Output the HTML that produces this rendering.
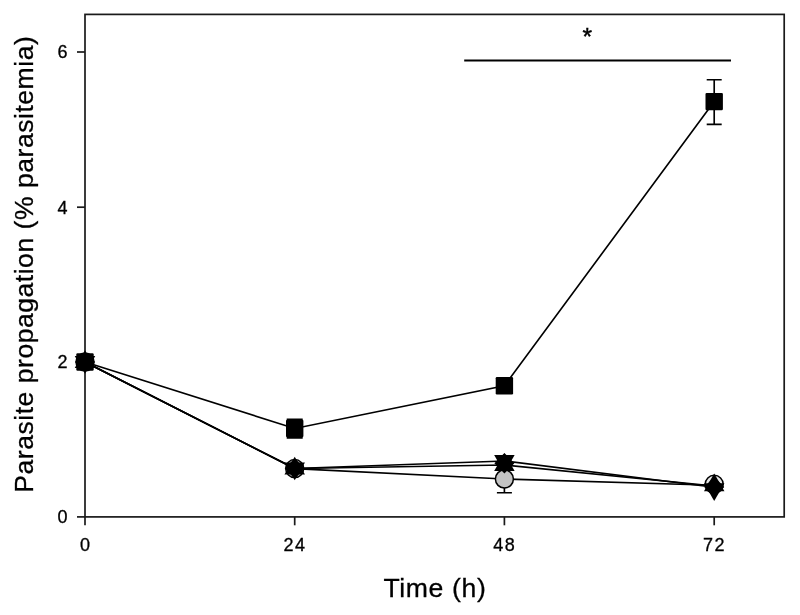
<!DOCTYPE html>
<html><head><meta charset="utf-8"><title>Parasite propagation</title>
<style>
html,body{margin:0;padding:0;background:#fff;}
body{width:800px;height:615px;overflow:hidden;}
svg{display:block;}
text{font-family:"Liberation Sans",Arial,sans-serif;fill:#000;}
.ln{fill:none;stroke:#000;stroke-width:1.65;}
.ax{fill:none;stroke:#1a1a1a;stroke-width:1.7;}
.tk{font-size:18px;letter-spacing:0.6px;stroke:#000;stroke-width:0.3px;}
.tt{font-size:26.6px;letter-spacing:0.5px;stroke:#000;stroke-width:0.3px;}
</style></head><body>
<svg width="800" height="615" viewBox="0 0 800 615">
<rect x="0" y="0" width="800" height="615" fill="#fff"/>
<rect class="ax" x="85" y="14.4" width="699.2" height="502.5"/>
<line class="ax" x1="77" y1="52" x2="85" y2="52"/>
<line class="ax" x1="77" y1="207.2" x2="85" y2="207.2"/>
<line class="ax" x1="77" y1="362" x2="85" y2="362"/>
<line class="ax" x1="77" y1="516.9" x2="85" y2="516.9"/>
<line class="ax" x1="85.0" y1="517" x2="85.0" y2="525.3"/>
<line class="ax" x1="294.7" y1="517" x2="294.7" y2="525.3"/>
<line class="ax" x1="504.4" y1="517" x2="504.4" y2="525.3"/>
<line class="ax" x1="714.2" y1="517" x2="714.2" y2="525.3"/>
<text class="tk" x="68" y="58.3" text-anchor="end">6</text>
<text class="tk" x="68" y="213.5" text-anchor="end">4</text>
<text class="tk" x="68" y="368.3" text-anchor="end">2</text>
<text class="tk" x="68" y="523.2" text-anchor="end">0</text>
<text class="tk" x="85.7" y="551.2" text-anchor="middle" style="letter-spacing:1.4px">0</text>
<text class="tk" x="295.0" y="551.2" text-anchor="middle" style="letter-spacing:1.4px">24</text>
<text class="tk" x="504.7" y="551.2" text-anchor="middle" style="letter-spacing:1.4px">48</text>
<text class="tk" x="714.5" y="551.2" text-anchor="middle" style="letter-spacing:1.4px">72</text>
<text class="tt" x="434.9" y="597.3" text-anchor="middle" style="letter-spacing:0.62px">Time (h)</text>
<text class="tt" transform="translate(33.1,264.2) rotate(-90)" text-anchor="middle">Parasite propagation (% parasitemia)</text>
<line x1="464.2" y1="60.6" x2="731" y2="60.6" stroke="#000" stroke-width="2"/>
<text x="587.2" y="45" text-anchor="middle" style="font-size:24.5px;stroke:#000;stroke-width:0.5px">*</text>
<path class="ln" d="M714.2 79.7V124.3M706.7 79.7H721.7M706.7 124.3H721.7"/>
<path class="ln" d="M504.4 465V492.7M496.9 465H511.9M496.9 492.7H511.9"/>
<path class="ln" d="M294.7 419.2V437.9M286.7 419.2H302.7M286.7 437.9H302.7"/>
<polyline class="ln" points="85.0,362.0 294.7,468.6 504.4,479.0 714.2,485.3"/>
<polyline class="ln" points="85.0,362.0 294.7,468.5 504.4,465.0 714.2,486.0"/>
<polyline class="ln" points="85.0,362.0 294.7,468.5 504.4,461.0 714.2,487.2"/>
<polyline class="ln" points="85.0,362.0 294.7,428.5 504.4,385.7 714.2,101.6"/>
<circle cx="85.0" cy="362" r="9" fill="#c4c4c4" stroke="#000" stroke-width="1.5"/>
<circle cx="294.7" cy="468.6" r="9" fill="#c4c4c4" stroke="#000" stroke-width="1.5"/>
<circle cx="504.4" cy="479" r="9" fill="#c4c4c4" stroke="#000" stroke-width="1.5"/>
<circle cx="714.2" cy="484.3" r="9" fill="#e6e6e6" stroke="#000" stroke-width="1.5"/>
<path d="M85.0 351.8L95.0 362L85.0 372.2L75.0 362Z" fill="#000"/>
<path d="M294.7 458.3L304.7 468.5L294.7 478.7L284.7 468.5Z" fill="#000"/>
<path d="M504.4 453.0L514.4 463.2L504.4 473.4L494.4 463.2Z" fill="#000"/>
<path d="M714.2 476.8L724.2 487.0L714.2 497.2L704.2 487.0Z" fill="#000"/>
<path d="M85.0 350.17L95.25 367.92H74.75Z" fill="#000"/>
<path d="M294.7 456.67L304.95 474.42H284.45Z" fill="#000"/>
<path d="M504.4 453.17L514.65 470.92H494.15Z" fill="#000"/>
<path d="M714.2 473.57L724.45 491.32H703.95Z" fill="#000"/>
<path d="M85.0 373.83L95.25 356.08H74.75Z" fill="#000"/>
<path d="M294.7 480.33L304.95 462.58H284.45Z" fill="#000"/>
<path d="M504.4 472.83L514.65 455.08H494.15Z" fill="#000"/>
<path d="M714.2 501.03L724.45 483.28H703.95Z" fill="#000"/>
<rect x="76.3" y="353.3" width="17.4" height="17.4" rx="1.2" fill="#000"/>
<rect x="286.0" y="419.8" width="17.4" height="17.4" rx="1.2" fill="#000"/>
<rect x="495.7" y="377.0" width="17.4" height="17.4" rx="1.2" fill="#000"/>
<rect x="705.5" y="92.9" width="17.4" height="17.4" rx="1.2" fill="#000"/>
</svg>
</body></html>
